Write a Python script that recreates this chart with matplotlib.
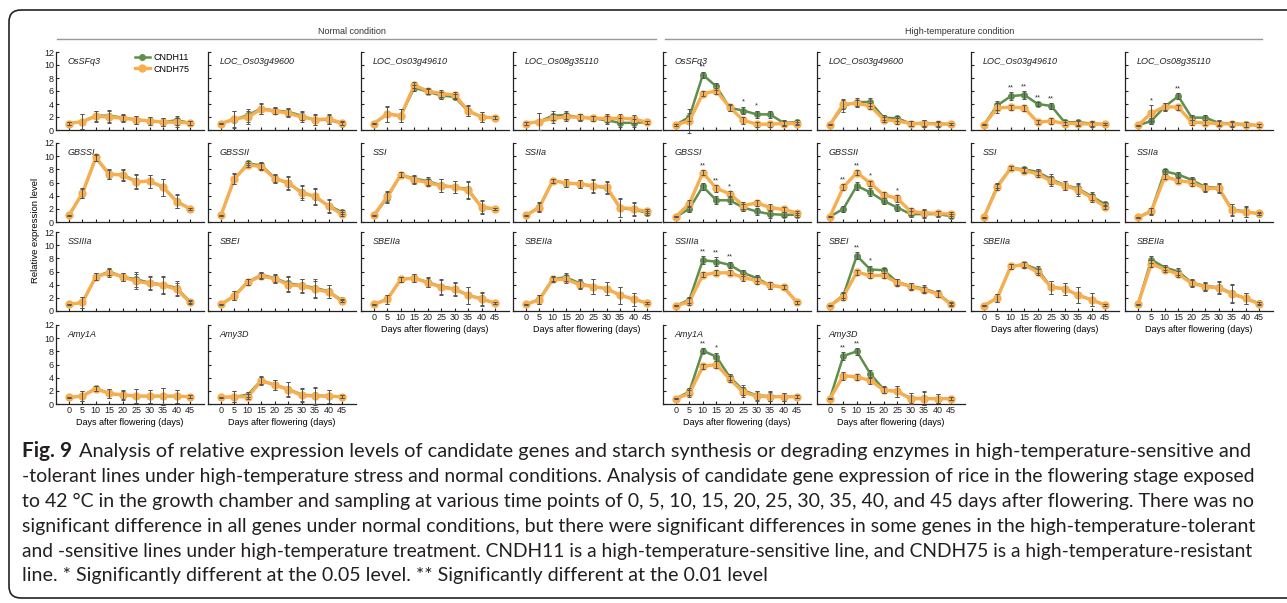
import matplotlib.pyplot as plt
from matplotlib.patches import FancyBboxPatch
from matplotlib.lines import Line2D

plt.rcParams['font.family'] = ['Liberation Sans', 'DejaVu Sans']

# --- data ---
days = [0, 5, 10, 15, 20, 25, 30, 35, 40, 45]
yticks = [0, 2, 4, 6, 8, 10, 12]

genes = ['OsSFq3', 'LOC_Os03g49600', 'LOC_Os03g49610', 'LOC_Os08g35110',
         'GBSSI', 'GBSSII', 'SSI', 'SSIIa',
         'SSIIIa', 'SBEI', 'SBEIIa', 'SBEIIa',
         'Amy1A', 'Amy3D']

# normal condition (CNDH11 green, CNDH75 orange)
normal_g = [
    [1.0, 1.3, 2.2, 2.2, 1.9, 1.6, 1.4, 1.2, 1.5, 1.1],
    [1.0, 1.6, 2.3, 3.3, 3.0, 2.8, 2.2, 1.5, 1.6, 1.0],
    [1.0, 2.4, 2.2, 6.5, 5.9, 5.3, 5.1, 2.9, 2.0, 1.9],
    [1.0, 1.3, 2.2, 2.3, 1.9, 1.8, 1.5, 1.1, 1.1, 1.2],
    [1.0, 4.3, 9.7, 7.2, 7.2, 6.2, 6.2, 5.3, 3.2, 2.0],
    [1.0, 6.5, 8.9, 8.6, 6.7, 5.8, 4.6, 3.8, 2.5, 1.5],
    [1.0, 3.7, 7.2, 6.6, 6.2, 5.6, 5.3, 5.0, 2.2, 2.0],
    [1.0, 2.3, 6.3, 5.9, 5.8, 5.4, 5.2, 2.1, 1.9, 1.4],
    [1.0, 1.3, 5.2, 6.0, 5.2, 4.8, 4.3, 4.0, 3.5, 1.4],
    [1.0, 2.3, 4.4, 5.5, 5.0, 4.2, 3.9, 3.5, 3.0, 1.6],
    [1.0, 1.8, 4.8, 5.0, 4.4, 3.7, 3.4, 2.4, 1.9, 1.2],
    [1.0, 1.8, 4.9, 5.1, 4.2, 3.7, 3.4, 2.4, 1.8, 1.2],
    [1.0, 1.2, 2.4, 1.6, 1.3, 1.2, 1.2, 1.2, 1.2, 1.1],
    [1.0, 1.1, 1.4, 3.6, 2.9, 2.3, 1.4, 1.3, 1.2, 1.1],
]
normal_o = [
    [1.0, 1.3, 2.1, 2.0, 1.8, 1.6, 1.4, 1.2, 1.2, 1.1],
    [1.0, 1.7, 2.0, 3.2, 2.9, 2.6, 2.0, 1.6, 1.7, 1.1],
    [1.0, 2.5, 2.2, 6.9, 6.0, 5.6, 5.4, 3.0, 2.0, 1.9],
    [1.0, 1.3, 1.8, 2.0, 2.0, 1.8, 1.8, 1.8, 1.7, 1.2],
    [1.0, 4.4, 9.8, 7.3, 7.1, 6.1, 6.2, 5.3, 3.1, 2.0],
    [1.0, 6.6, 8.7, 8.4, 6.6, 6.0, 4.4, 3.9, 2.4, 1.2],
    [1.0, 3.9, 7.2, 6.4, 6.0, 5.5, 5.3, 4.8, 2.3, 2.0],
    [1.0, 2.2, 6.3, 5.9, 5.8, 5.5, 5.3, 2.2, 2.0, 1.6],
    [1.0, 1.3, 5.2, 5.8, 5.2, 4.5, 4.2, 3.9, 3.3, 1.3],
    [1.0, 2.3, 4.4, 5.3, 4.9, 4.0, 3.8, 3.3, 2.9, 1.5],
    [1.0, 1.8, 4.8, 5.0, 4.3, 3.6, 3.3, 2.4, 1.8, 1.2],
    [1.0, 1.7, 4.8, 4.8, 4.0, 3.7, 3.4, 2.4, 1.8, 1.2],
    [1.0, 1.2, 2.3, 1.6, 1.4, 1.2, 1.2, 1.2, 1.2, 1.1],
    [1.0, 1.1, 1.1, 3.5, 2.9, 2.2, 1.3, 1.2, 1.2, 1.1],
]
normal_err = [
    [0.2, 1.2, 0.8, 0.9, 0.5, 0.6, 0.6, 0.6, 0.7, 0.3],
    [0.1, 1.3, 1.0, 0.8, 0.5, 0.6, 0.7, 0.8, 0.7, 0.3],
    [0.1, 1.2, 1.0, 0.5, 0.4, 0.5, 0.4, 0.8, 0.7, 0.2],
    [0.2, 1.3, 0.7, 0.6, 0.5, 0.4, 0.6, 0.7, 0.6, 0.2],
    [0.1, 0.7, 0.5, 0.7, 0.8, 1.1, 1.0, 1.3, 1.0, 0.2],
    [0.1, 0.8, 0.3, 0.5, 0.6, 1.0, 1.0, 1.2, 1.0, 0.3],
    [0.1, 0.8, 0.4, 0.6, 0.6, 1.0, 0.9, 1.3, 1.0, 0.2],
    [0.1, 0.7, 0.3, 0.6, 0.6, 1.0, 0.9, 1.4, 1.0, 0.3],
    [0.1, 0.8, 0.5, 0.6, 0.6, 1.1, 1.0, 1.3, 1.0, 0.2],
    [0.1, 0.7, 0.4, 0.5, 0.6, 1.1, 1.0, 1.3, 1.0, 0.2],
    [0.1, 0.7, 0.4, 0.6, 0.7, 1.1, 1.0, 1.3, 1.0, 0.2],
    [0.1, 0.7, 0.4, 0.6, 0.7, 1.1, 1.0, 1.3, 1.0, 0.2],
    [0.1, 0.8, 0.4, 0.7, 0.7, 1.1, 1.0, 1.3, 1.0, 0.2],
    [0.1, 0.8, 0.4, 0.6, 0.7, 1.1, 1.0, 1.3, 1.0, 0.2],
]

# high-temperature condition
high_g = [
    [0.8, 2.0, 8.5, 6.7, 3.4, 3.0, 2.4, 2.4, 1.1, 1.2],
    [0.8, 3.7, 4.3, 4.3, 1.9, 1.8, 1.0, 1.1, 1.0, 0.9],
    [0.8, 3.8, 5.2, 5.4, 4.0, 3.7, 1.2, 1.2, 1.0, 0.9],
    [0.7, 1.4, 3.6, 5.2, 1.9, 1.9, 1.1, 1.0, 0.9, 0.7],
    [0.8, 2.0, 5.4, 3.3, 3.3, 2.2, 1.6, 1.2, 1.1, 1.1],
    [0.8, 2.0, 5.5, 4.5, 3.2, 2.2, 1.2, 1.2, 1.2, 0.9],
    [0.7, 5.5, 8.2, 8.0, 7.6, 6.5, 5.6, 5.1, 3.9, 2.7],
    [0.7, 1.7, 7.7, 7.2, 6.4, 5.3, 5.2, 1.9, 1.6, 1.2],
    [0.8, 1.7, 7.7, 7.5, 7.0, 5.8, 5.0, 3.9, 3.7, 1.3],
    [0.8, 2.4, 8.4, 6.3, 6.2, 4.4, 3.8, 3.4, 2.7, 1.1],
    [0.8, 2.0, 6.8, 7.1, 6.3, 3.6, 3.4, 2.4, 1.7, 0.9],
    [1.0, 7.8, 6.6, 6.0, 4.3, 3.8, 3.6, 2.7, 1.9, 1.2],
    [0.8, 1.9, 8.1, 7.2, 4.1, 2.1, 1.3, 1.2, 1.1, 1.1],
    [0.8, 7.3, 8.0, 4.6, 2.2, 1.9, 0.9, 0.9, 0.8, 0.8],
]
high_o = [
    [0.8, 1.4, 5.6, 6.0, 3.5, 1.5, 0.9, 0.9, 1.0, 1.0],
    [0.8, 4.0, 4.1, 3.7, 1.6, 1.4, 1.0, 1.0, 0.9, 0.9],
    [0.8, 3.4, 3.5, 3.4, 1.2, 1.4, 1.0, 1.0, 0.9, 0.9],
    [0.7, 2.6, 3.6, 3.5, 1.2, 1.1, 1.0, 0.9, 0.8, 0.7],
    [0.8, 2.8, 7.5, 5.1, 4.3, 2.5, 2.9, 2.2, 1.9, 1.4],
    [0.8, 5.3, 7.5, 5.9, 4.1, 3.6, 1.6, 1.4, 1.3, 1.2],
    [0.7, 5.3, 8.2, 7.8, 7.3, 6.2, 5.5, 4.9, 3.7, 2.3],
    [0.7, 1.6, 6.9, 6.3, 6.0, 5.1, 5.1, 1.8, 1.5, 1.3],
    [0.8, 1.4, 5.5, 5.8, 5.8, 5.1, 4.6, 3.9, 3.6, 1.3],
    [0.8, 2.2, 5.9, 5.4, 5.4, 4.3, 3.7, 3.2, 2.6, 1.0],
    [0.8, 2.0, 6.8, 7.0, 5.9, 3.6, 3.4, 2.4, 1.7, 0.9],
    [1.0, 7.2, 6.3, 5.6, 4.2, 3.7, 3.5, 2.6, 1.9, 1.1],
    [0.8, 1.6, 5.7, 6.0, 3.8, 1.8, 1.2, 1.1, 1.1, 1.1],
    [0.8, 4.3, 4.1, 3.6, 2.1, 1.9, 0.8, 0.8, 0.8, 0.8],
]
high_err_g = [
    [0.2, 0.6, 0.5, 0.5, 0.4, 0.6, 0.6, 0.6, 0.4, 0.3],
    [0.1, 0.9, 0.6, 0.6, 0.4, 0.4, 0.4, 0.5, 0.4, 0.2],
    [0.1, 0.7, 0.6, 0.6, 0.3, 0.4, 0.4, 0.4, 0.4, 0.2],
    [0.1, 0.5, 0.6, 0.5, 0.4, 0.4, 0.4, 0.4, 0.4, 0.2],
    [0.1, 0.5, 0.6, 0.6, 0.5, 0.5, 0.6, 0.6, 0.4, 0.3],
    [0.1, 0.5, 0.6, 0.6, 0.5, 0.6, 0.5, 0.6, 0.4, 0.3],
    [0.1, 0.4, 0.3, 0.4, 0.5, 0.8, 0.7, 0.9, 0.6, 0.3],
    [0.1, 0.5, 0.4, 0.4, 0.5, 0.6, 0.7, 0.9, 0.8, 0.2],
    [0.1, 0.5, 0.6, 0.7, 0.5, 0.5, 0.5, 0.5, 0.3, 0.2],
    [0.1, 0.5, 0.5, 0.6, 0.4, 0.5, 0.5, 0.5, 0.5, 0.2],
    [0.1, 0.6, 0.4, 0.4, 0.5, 1.0, 0.9, 1.2, 1.0, 0.2],
    [0.1, 0.5, 0.4, 0.5, 0.5, 0.6, 0.9, 1.4, 0.8, 0.2],
    [0.1, 0.6, 0.4, 0.6, 0.5, 0.8, 0.7, 0.7, 0.6, 0.2],
    [0.1, 0.6, 0.5, 0.6, 0.5, 0.8, 0.8, 1.0, 0.7, 0.2],
]
high_err_o = [
    [0.2, 1.8, 0.4, 0.4, 0.5, 0.5, 0.4, 0.4, 0.4, 0.3],
    [0.1, 0.8, 0.5, 0.5, 0.4, 0.4, 0.4, 0.5, 0.4, 0.2],
    [0.1, 0.8, 0.4, 0.4, 0.3, 0.4, 0.3, 0.4, 0.4, 0.2],
    [0.1, 1.2, 0.5, 0.4, 0.4, 0.4, 0.4, 0.4, 0.4, 0.2],
    [0.1, 0.5, 0.4, 0.5, 0.4, 0.5, 0.4, 0.6, 0.4, 0.3],
    [0.1, 0.4, 0.4, 0.4, 0.5, 0.5, 0.5, 0.6, 0.4, 0.3],
    [0.1, 0.4, 0.3, 0.4, 0.5, 0.8, 0.7, 0.9, 0.6, 0.3],
    [0.1, 0.5, 0.4, 0.4, 0.5, 0.6, 0.7, 0.9, 0.8, 0.2],
    [0.1, 0.5, 0.4, 0.4, 0.4, 0.5, 0.5, 0.5, 0.3, 0.2],
    [0.1, 0.5, 0.4, 0.4, 0.4, 0.5, 0.5, 0.5, 0.5, 0.2],
    [0.1, 0.6, 0.4, 0.4, 0.5, 1.0, 0.9, 1.2, 1.0, 0.2],
    [0.1, 0.5, 0.4, 0.5, 0.5, 0.6, 0.9, 1.4, 0.8, 0.2],
    [0.1, 0.6, 0.4, 0.5, 0.5, 0.8, 0.7, 0.7, 0.6, 0.2],
    [0.1, 0.6, 0.5, 0.5, 0.5, 0.8, 0.8, 1.0, 0.7, 0.2],
]
high_stars = [
    [(10, '**'), (25, '*'), (30, '*')],
    [],
    [(10, '**'), (15, '**'), (20, '**'), (25, '**')],
    [(5, '*'), (15, '**')],
    [(10, '**'), (15, '**'), (20, '*')],
    [(5, '**'), (10, '**'), (15, '*'), (25, '*')],
    [], [],
    [(10, '**'), (15, '**'), (20, '**')],
    [(10, '**'), (15, '*')],
    [], [],
    [(10, '**'), (15, '*')],
    [(5, '**'), (10, '**')],
]

caption = [
    'Analysis of relative expression levels of candidate genes and starch synthesis or degrading enzymes in high-temperature-sensitive and',
    '-tolerant lines under high-temperature stress and normal conditions. Analysis of candidate gene expression of rice in the flowering stage exposed',
    'to 42 °C in the growth chamber and sampling at various time points of 0, 5, 10, 15, 20, 25, 30, 35, 40, and 45 days after flowering. There was no',
    'significant difference in all genes under normal conditions, but there were significant differences in some genes in the high-temperature-tolerant',
    'and -sensitive lines under high-temperature treatment. CNDH11 is a high-temperature-sensitive line, and CNDH75 is a high-temperature-resistant',
    'line. * Significantly different at the 0.05 level. ** Significantly different at the 0.01 level',
]

GREEN = '#5e8f4c'
ORANGE = '#f7ae50'
ERR = '#555555'
FS = 6.5

W, H = 1287, 603
fig = plt.figure(figsize=(W / 100, H / 100), dpi=100)

bg = fig.add_axes([0, 0, 1, 1], zorder=-1)
bg.set_xlim(0, W)
bg.set_ylim(H, 0)
bg.axis('off')

# --- layout in pixels ---
row_top = [52, 143, 232, 325]
row_bot = [130, 222, 311, 404]
col_left = [56, 208, 361, 513, 663, 817, 971, 1125]
col_w = 148


def panel(col, row):
    return fig.add_axes([col_left[col] / W, 1 - row_bot[row] / H,
                         col_w / W, (row_bot[row] - row_top[row]) / H])


def draw_panel(ax, name, g, o, eg, eo, stars, col, row):
    ax.plot(days, g, color=GREEN, lw=1.8, marker='o', ms=4, zorder=2, clip_on=False)
    ax.plot(days, o, color=ORANGE, lw=2.4, marker='o', ms=5, zorder=3, clip_on=False)
    for vals, err in ((g, eg), (o, eo)):
        ax.errorbar(days, vals, yerr=err, fmt='none', ecolor=ERR, elinewidth=0.7,
                    capsize=1.6, capthick=0.7, zorder=4, clip_on=False)
    for d, mark in stars:
        k = days.index(d)
        top = max(g[k] + eg[k], o[k] + eo[k])
        ax.text(d, top + 0.15, mark, ha='center', va='bottom', fontsize=5.5, color='#333333')
    ax.set_xlim(-4.8, 50.2)
    ax.set_ylim(0, 12)
    ax.set_xticks(days)
    ax.set_yticks(yticks)
    for s in ('top', 'right'):
        ax.spines[s].set_visible(False)
    for s in ('left', 'bottom'):
        ax.spines[s].set_linewidth(0.9)
        ax.spines[s].set_color('#222222')
    ax.tick_params(direction='in', length=2.5, width=0.8, labelsize=FS, pad=1.5, colors='#222222')
    ax.tick_params(labelleft=(col == 0))
    bottom = (row == 3 and col % 4 < 2) or (row == 2 and col % 4 >= 2)
    if bottom:
        ax.set_xlabel('Days after flowering (days)', fontsize=FS, labelpad=2)
    else:
        ax.tick_params(labelbottom=False)
    ax.text(0.08, 0.94, name, transform=ax.transAxes, fontstyle='italic',
            fontsize=FS, va='top', color='#222222')


for i, name in enumerate(genes):
    r, c = i // 4, i % 4
    ax = panel(c, r)
    draw_panel(ax, name, normal_g[i], normal_o[i], normal_err[i], normal_err[i], [], c, r)
    if i == 0:
        handles = [Line2D([], [], color=GREEN, lw=1.8, marker='o', ms=4),
                   Line2D([], [], color=ORANGE, lw=2.4, marker='o', ms=5)]
        ax.legend(handles, ['CNDH11', 'CNDH75'], loc='upper left', bbox_to_anchor=(0.5, 1.04),
                  frameon=False, fontsize=FS, handlelength=1.7, handletextpad=0.4,
                  labelspacing=0.25, borderpad=0)
    ax = panel(c + 4, r)
    draw_panel(ax, name, high_g[i], high_o[i], high_err_g[i], high_err_o[i], high_stars[i], c + 4, r)

# group headers
bg.text(352, 31, 'Normal condition', ha='center', va='center', fontsize=FS, color='#333333')
bg.plot([57, 656], [39, 39], color='#999999', lw=1)
bg.text(960, 31, 'High-temperature condition', ha='center', va='center', fontsize=FS, color='#333333')
bg.plot([665, 1262], [39, 39], color='#999999', lw=1)
bg.text(35, 230, 'Relative expression level', rotation=90, ha='center', va='center', fontsize=FS + 0.3)

# outer frame
bg.add_patch(FancyBboxPatch((9, 10), 1300, 588, boxstyle='round,pad=0,rounding_size=12',
                            fill=False, lw=1.2, ec='#222222'))

# caption: one text per line, each sized to fill the column width
cap_x, cap_right = 22, 1255
cap_base = [457, 482, 507, 532, 557, 581]
cap_font = ['Lato', 'Open Sans', 'DejaVu Sans']
cap_col = '#231f20'
fs0 = 10

fig_lbl = bg.text(cap_x, cap_base[0], 'Fig. 9', fontsize=fs0 * 1.04, fontweight='bold',
                  family=cap_font, va='baseline', color=cap_col)
lines = [bg.text(cap_x, y, t, fontsize=fs0, family=cap_font, va='baseline', color=cap_col)
         for y, t in zip(cap_base, caption)]
rend = fig.canvas.get_renderer()
fig.canvas.draw()
wlbl = fig_lbl.get_window_extent(rend).width
gap = 0.5 * fs0
sizes = []
for k, t in enumerate(lines[:5]):
    avail = cap_right - cap_x - (wlbl + gap if k == 0 else 0)
    sizes.append(fs0 * avail / t.get_window_extent(rend).width)
mean_fs = sum(sizes) / len(sizes)
sizes.append(mean_fs)
# keep the first line in step with the bold label
sizes[0] = fs0 * (cap_right - cap_x) / (wlbl + gap + lines[0].get_window_extent(rend).width)
fig_lbl.set_fontsize(sizes[0] * 1.04)
for t, s in zip(lines, sizes):
    t.set_fontsize(s)
fig.canvas.draw()
wlbl = fig_lbl.get_window_extent(rend).width
lines[0].set_x(cap_x + wlbl + 0.5 * sizes[0])

fig.savefig('out.png', dpi=100)
